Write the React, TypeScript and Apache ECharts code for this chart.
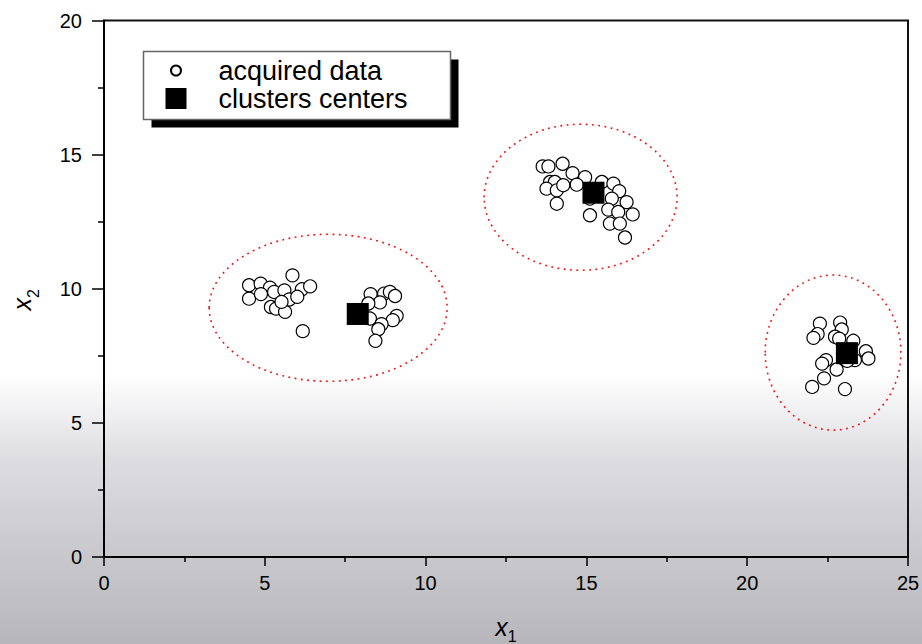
import React, { useEffect, useRef } from "react";
import * as echarts from "echarts";

const FONT = "'Liberation Sans', Arial, sans-serif";

const xTicks = [0, 5, 10, 15, 20, 25];
const yTicks = [0, 5, 10, 15, 20];

const cluster1Data: number[][] = [
  [5.86, 10.5], [4.51, 10.13], [4.87, 10.19], [5.16, 10.04], [5.29, 9.88], [5.61, 9.94],
  [6.15, 9.98], [6.41, 10.09], [4.51, 9.63], [4.88, 9.8], [5.76, 9.6], [6.01, 9.7],
  [5.19, 9.32], [5.35, 9.26], [5.63, 9.14], [6.18, 8.42], [5.52, 9.51],
  [8.29, 9.8], [8.71, 9.82], [8.89, 9.88], [9.05, 9.73], [8.58, 9.49], [8.22, 9.45],
  [8.27, 8.89], [9.1, 8.99], [8.98, 8.83], [8.63, 8.68], [8.53, 8.49], [8.44, 8.06],
];

const cluster2Data: number[][] = [
  [13.64, 14.56], [13.82, 14.56], [14.26, 14.66], [14.57, 14.31], [14.96, 14.16],
  [13.87, 13.98], [14.02, 13.98], [13.76, 13.73], [14.08, 13.67], [14.28, 13.86],
  [14.7, 13.88], [14.08, 13.17], [15.48, 13.98], [15.84, 13.92], [16.02, 13.64],
  [15.79, 13.36], [16.25, 13.23], [15.68, 12.95], [15.99, 12.86], [16.44, 12.77],
  [15.11, 12.74], [15.73, 12.43], [16.04, 12.43], [16.2, 11.91], [15.11, 13.36],
];

const cluster3Data: number[][] = [
  [22.26, 8.7], [22.89, 8.74], [22.19, 8.31], [22.06, 8.17], [22.94, 8.48],
  [22.73, 8.21], [22.86, 8.14], [23.3, 8.06], [23.69, 7.67], [23.77, 7.4],
  [23.35, 7.34], [23.11, 7.31], [22.45, 7.34], [22.33, 7.21], [22.78, 6.99],
  [22.39, 6.66], [22.02, 6.34], [23.04, 6.26],
];

const centersData: number[][] = [
  [7.89, 9.06],
  [15.22, 13.58],
  [23.1, 7.6],
];

// ellipse: center x, center y, radius x, radius y (data units)
const ellipseData: number[][] = [
  [6.97, 9.29, 3.7, 2.74],
  [14.82, 13.41, 3.0, 2.72],
  [22.67, 7.62, 2.11, 2.89],
];

const seriesNames = ["acquired data", "clusters centers"];

export default function App() {
  const ref = useRef<HTMLDivElement>(null);

  useEffect(() => {
    if (!ref.current) return;
    const chart = echarts.init(ref.current, undefined, { renderer: "svg" });
    const acquired = [...cluster1Data, ...cluster2Data, ...cluster3Data];

    const axisCommon = {
      axisLine: { show: true, lineStyle: { color: "#000", width: 2 } },
      splitLine: { show: false },
      minorSplitLine: { show: false },
    };

    chart.setOption({
      animation: false,
      backgroundColor: "transparent",
      grid: {
        left: 104,
        top: 20.5,
        right: 14,
        bottom: 87,
        containLabel: false,
        outerBoundsMode: "none",
        show: true,
        borderColor: "#111",
        borderWidth: 2,
        backgroundColor: "transparent",
      },
      xAxis: {
        type: "value",
        min: xTicks[0],
        max: xTicks[xTicks.length - 1],
        interval: 5,
        ...axisCommon,
        axisTick: { show: true, inside: false, length: 9, lineStyle: { color: "#000", width: 1.5 } },
        minorTick: { show: true, splitNumber: 2, length: 5, lineStyle: { color: "#000", width: 1.5 } },
        axisLabel: { color: "#000", fontSize: 20, fontFamily: FONT, margin: 16 },
        name: "{i|x}{s|1}",
        nameLocation: "middle",
        nameGap: 57,
        nameTextStyle: {
          rich: {
            i: { fontSize: 25, fontStyle: "italic", fontFamily: FONT, color: "#000", padding: [0, 0, 5, 0] },
            s: { fontSize: 16, fontFamily: FONT, color: "#000", verticalAlign: "bottom" },
          },
        },
      },
      yAxis: {
        type: "value",
        min: yTicks[0],
        max: yTicks[yTicks.length - 1],
        interval: 5,
        ...axisCommon,
        axisTick: { show: true, inside: false, length: 12, lineStyle: { color: "#000", width: 1.5 } },
        minorTick: { show: true, splitNumber: 2, length: 6, lineStyle: { color: "#000", width: 1.5 } },
        axisLabel: { color: "#000", fontSize: 20, fontFamily: FONT, margin: 22 },
        name: "{i|x}{s|2}",
        nameLocation: "middle",
        nameGap: 63,
        nameRotate: 90,
        nameTextStyle: {
          padding: [0, 22, 0, 0],
          rich: {
            i: { fontSize: 25, fontStyle: "italic", fontFamily: FONT, color: "#000", padding: [0, 0, 7, 0] },
            s: { fontSize: 16, fontFamily: FONT, color: "#000", verticalAlign: "bottom" },
          },
        },
      },
      legend: [
        {
          data: [seriesNames[0]],
          left: 170,
          top: 57,
          padding: 0,
          itemWidth: 21,
          itemHeight: 10,
          selectedMode: false,
          textStyle: { fontSize: 27, fontFamily: FONT, color: "#000", padding: [0, 0, 0, 27] },
        },
        {
          data: [seriesNames[1]],
          left: 165.5,
          top: 85,
          padding: 0,
          itemWidth: 21,
          itemHeight: 21,
          selectedMode: false,
          textStyle: { fontSize: 27, fontFamily: FONT, color: "#000", padding: [0, 0, 0, 27] },
        },
      ],
      graphic: [
        {
          type: "rect",
          z: 0,
          shape: { x: 151.5, y: 59.5, width: 307, height: 68 },
          style: { fill: "#000" },
        },
        {
          type: "rect",
          z: 1,
          shape: { x: 143.5, y: 51.5, width: 307, height: 68 },
          style: { fill: "#fff", stroke: "#666", lineWidth: 1.5 },
        },
      ],
      series: [
        {
          type: "custom",
          name: "ellipses",
          silent: true,
          data: ellipseData,
          encode: { x: 0, y: 1 },
          renderItem: (params: any, api: any) => {
            const c = api.coord([api.value(0), api.value(1)]);
            const s = api.size([api.value(2), api.value(3)]);
            return {
              type: "ellipse",
              shape: { cx: c[0], cy: c[1], rx: s[0], ry: s[1] },
              style: { fill: "none", stroke: "#ee1111", lineWidth: 1.6, lineDash: [1.8, 4.5] },
            };
          },
        },
        {
          type: "scatter",
          name: seriesNames[0],
          data: acquired,
          symbol: "circle",
          symbolSize: 13,
          itemStyle: { color: "#fff", borderColor: "#000", borderWidth: 1.2, opacity: 1 },
        },
        {
          type: "scatter",
          name: seriesNames[1],
          data: centersData,
          symbol: "rect",
          symbolSize: 22,
          itemStyle: { color: "#000", opacity: 1 },
        },
      ],
    });

    return () => chart.dispose();
  }, []);

  return (
    <div
      style={{
        position: "fixed",
        left: 0,
        top: 0,
        width: 922,
        height: 644,
        background:
          "linear-gradient(to bottom, #ffffff 0%, #ffffff 58%, #dcdce0 72%, #c9c9cd 86%, #b6b6bc 100%)",
      }}
    >
      <div ref={ref} style={{ width: 922, height: 644 }} />
    </div>
  );
}
